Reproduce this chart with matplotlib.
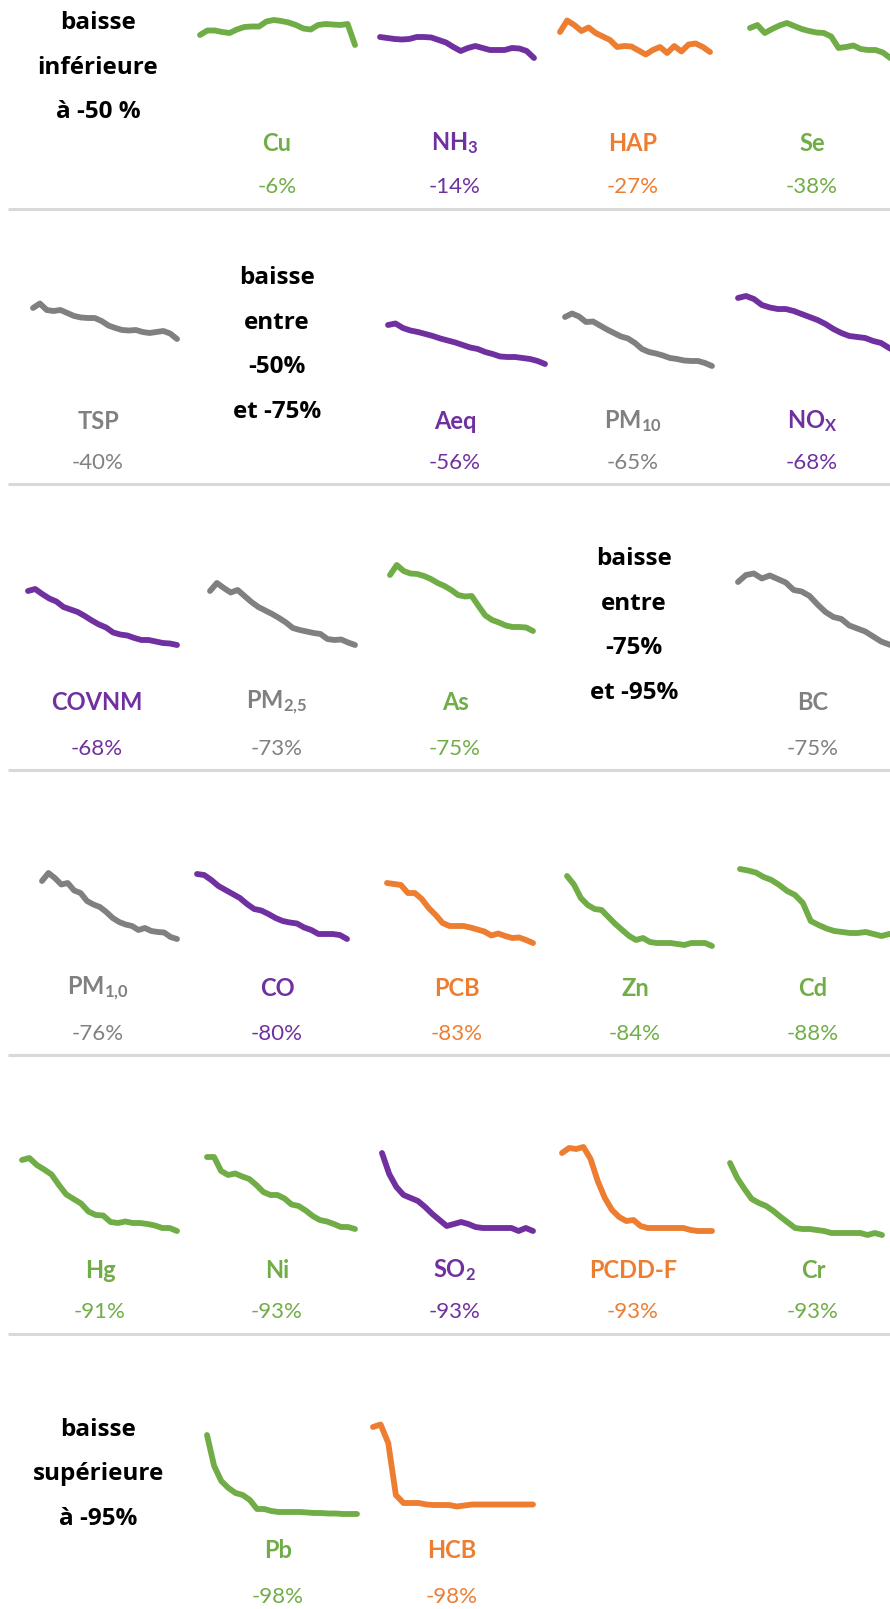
import numpy as np
import matplotlib
matplotlib.use('Agg')
import matplotlib.pyplot as plt

plt.rcParams['font.family'] = ['Lato', 'DejaVu Sans']
plt.rcParams['mathtext.fontset'] = 'custom'
plt.rcParams['mathtext.rm'] = 'Lato'
plt.rcParams['mathtext.bf'] = 'Lato:bold'
plt.rcParams['mathtext.it'] = 'Lato:italic'

W, H = 890, 1609

VERT = '#70AD47'
VIOLET = '#7030A0'
ORANGE = '#ED7D31'
GRIS = '#808080'

# polluants, dans l'ordre de lecture
noms = ['Cu', r'NH$_\mathbf{3}$', 'HAP', 'Se',
        'TSP', 'Aeq', r'PM$_\mathbf{10}$', r'NO$_\mathbf{X}$',
        'COVNM', r'PM$_\mathbf{2{,}5}$', 'As', 'BC',
        r'PM$_\mathbf{1{,}0}$', 'CO', 'PCB', 'Zn', 'Cd',
        'Hg', 'Ni', r'SO$_\mathbf{2}$', 'PCDD-F', 'Cr',
        'Pb', 'HCB']
baisses = [-6, -14, -27, -38,
           -40, -56, -65, -68,
           -68, -73, -75, -75,
           -76, -80, -83, -84, -88,
           -91, -93, -93, -93, -93,
           -98, -98]
couleurs = [VERT, VIOLET, ORANGE, VERT,
            GRIS, VIOLET, GRIS, VIOLET,
            VIOLET, GRIS, VERT, GRIS,
            GRIS, VIOLET, ORANGE, VERT, VERT,
            VERT, VERT, VIOLET, ORANGE, VERT,
            VERT, ORANGE]

# evolutions (niveau relatif)
s_cu = [45, 49.5, 49.5, 48, 47, 50.5, 53, 53.5, 53.5, 58.5, 60, 59, 57.5, 55, 51.5, 50.5, 55, 56, 55.5, 55, 56, 35]
s_nh3 = [43, 42, 41, 40.5, 41, 43, 43, 42.5, 40, 37.5, 33, 29, 32, 34, 32, 30, 30, 30, 32, 31.5, 29, 22]
s_hap = [48, 59.5, 55, 49, 52.5, 47, 43.5, 40, 33, 34, 33.5, 29.5, 25.5, 30, 33, 27, 34, 28.5, 35.5, 36.5, 33, 28]
s_se = [52, 55, 47, 51, 54.5, 57, 54, 51, 49, 47.5, 47, 43.5, 32, 33, 34.5, 31, 30, 30, 27.5, 22, 20, 18]
s_tsp = [72, 76.5, 70, 69, 70, 67, 64, 62.5, 62, 62, 59, 54.5, 52, 50, 49.5, 50, 48, 47, 48, 49, 46.5, 41]
s_aeq = [55, 56.5, 52, 49.5, 48, 46, 44, 41.5, 39.5, 37.5, 35, 32.5, 31, 28, 26, 23.5, 23, 23, 22, 21, 19, 16]
s_pm10 = [63, 66.5, 63.5, 58, 58.5, 54.5, 50.5, 47, 43.5, 41.5, 37, 31, 28, 26.5, 24.5, 22, 21, 19.5, 19, 19, 17, 14]
s_nox = [82, 84, 81, 75, 72.5, 71, 71, 69, 66, 63, 60, 56, 51, 47, 44, 43, 42, 39, 37, 32, 28, 23]
s_covnm = [69, 71, 66, 61.5, 58.5, 53, 50.5, 48, 44, 39.5, 35.5, 32.5, 27.5, 25.5, 24.5, 22, 20, 20, 18.5, 17, 16.5, 15]
s_pm25 = [69, 77, 72, 67.5, 70, 64, 58, 53, 49.5, 46, 42, 37.5, 32, 30, 28.5, 27, 26, 21, 20, 20.5, 17.5, 15]
s_as = [85, 95, 89, 86.5, 86, 84, 81, 77, 74, 70, 65, 63.5, 64, 54, 44.5, 40, 37.5, 34.5, 33, 33, 32.5, 29]
s_bc = [78, 85, 86.5, 81.5, 84.5, 81, 77.5, 70, 68.5, 64, 55.5, 48, 43, 41, 34.5, 31.5, 28.5, 23.5, 18.5, 15.5, 12.5, 8]
s_pm1 = [79, 87, 82, 75.5, 77, 69.5, 67, 59, 55.5, 53, 48, 42, 38, 35.5, 34, 30, 32, 29, 28, 27.5, 23, 21]
s_co = [86, 85, 80, 74, 70, 66, 62, 56, 51, 49.5, 46, 42, 39, 37.5, 36.5, 32.5, 30, 26, 26, 26, 25, 21]
s_pcb = [77, 76, 75, 67, 67, 61, 52, 45, 37, 34, 34, 34, 32.5, 30.5, 28.5, 24.5, 26.5, 24, 22, 22.5, 20, 17]
s_zn = [84, 75.5, 62, 55, 51, 50, 43, 36, 30, 24, 20, 22, 18, 17, 17, 17, 16, 15, 17, 17, 17, 14]
s_cd = [91, 89.5, 87.5, 83, 80, 75, 69, 65, 57, 39, 35, 31.5, 29, 28, 27, 27, 28, 26, 24, 26, 27, 25]
s_hg = [90, 92, 85, 80.5, 75.5, 65, 55.5, 51, 46.5, 38.5, 35, 34.5, 28, 27, 28.5, 27, 27, 26, 24.5, 22, 22, 19]
s_ni = [93, 93, 79, 75, 76.5, 73.5, 71, 65, 58, 55, 55, 51.5, 45.5, 44, 39.5, 34, 30, 28.5, 26, 23, 23, 21]
s_so2 = [97, 76, 63, 55, 52, 49, 43, 36, 30, 24, 26, 28, 26, 23, 22, 22, 22, 22, 22, 19, 22, 19]
s_pcdd = [97, 102, 101, 103, 91, 69, 52, 40, 33, 29, 30, 24, 22, 22, 22, 22, 22, 22, 20, 19, 19, 19]
s_cr = [87, 72, 61, 51, 47, 44, 39, 33, 27.5, 22, 21, 21, 20, 19, 17, 17, 17, 17, 17, 15, 17, 15]
s_pb = [95, 64, 49, 42, 37, 35, 30, 21, 21, 19, 18, 18, 18, 18, 17.5, 17, 17, 16.5, 16.5, 16, 16, 16]
s_hcb = [103, 105.5, 87, 35, 27, 27, 27, 25.5, 25, 25, 25, 23.5, 24.5, 25.5, 25.5, 25.5, 25.5, 25.5, 25.5, 25.5, 25.5, 25.5]

series = [s_cu, s_nh3, s_hap, s_se,
          s_tsp, s_aeq, s_pm10, s_nox,
          s_covnm, s_pm25, s_as, s_bc,
          s_pm1, s_co, s_pcb, s_zn, s_cd,
          s_hg, s_ni, s_so2, s_pcdd, s_cr,
          s_pb, s_hcb]

categories = [['baisse', 'inférieure', 'à -50 %'],
              ['baisse', 'entre', '-50%', 'et -75%'],
              ['baisse', 'entre', '-75%', 'et -95%'],
              ['baisse', 'supérieure', 'à -95%']]

# mise en page (pixels)
lignes = [0, 0, 0, 0, 1, 1, 1, 1, 2, 2, 2, 2, 3, 3, 3, 3, 3, 4, 4, 4, 4, 4, 5, 5]
x_debut = [200, 380, 560, 750, 33, 388, 565, 738, 28, 210, 390, 738,
           42, 197, 387, 567, 740, 22, 207, 382, 562, 730, 207, 373]
x_fin = [355, 534, 710, 905, 177, 545, 712, 905, 177, 355, 533, 905,
         177, 347, 533, 712, 905, 177, 355, 533, 712, 882, 357, 533]
x_etiq = [277, 455, 633, 812, 98, 455, 633, 812, 97, 277, 455, 813,
          98, 277, 457, 635, 813, 100, 277, 455, 633, 813, 278, 452]
base_y = [80, 380, 660, 960, 1250, 1530]
etiq_y = [143, 421, 702, 988, 1270, 1551]
pct_y = [187, 463, 749, 1034, 1312, 1597]
sep_y = [209, 484, 770, 1055, 1334]
cat_pos = [(98, 23), (277, 278), (634, 559), (98, 1430)]
BOXH = 120

fig = plt.figure(figsize=(W / 100, H / 100), dpi=100)
ax = fig.add_axes([0, 0, 1, 1])
ax.set_xlim(0, W)
ax.set_ylim(H, 0)
ax.axis('off')

for y in sep_y:
    ax.plot([8, W], [y, y], color='#D9D9D9', lw=2.2, solid_capstyle='butt')

for lines, (cx, cy) in zip(categories, cat_pos):
    for i, t in enumerate(lines):
        ax.text(cx, cy + i * 44.5, t, ha='center', va='center',
                fontsize=17.5, fontweight='bold', color='black',
                family=['Open Sans', 'DejaVu Sans'])

for i, vals in enumerate(series):
    r = lignes[i]
    x0, x1 = x_debut[i], x_fin[i]
    sa = fig.add_axes([x0 / W, 1 - base_y[r] / H, (x1 - x0) / W, BOXH / H])
    sa.plot(np.arange(len(vals)), vals, color=couleurs[i], lw=4.2,
            solid_capstyle='round', solid_joinstyle='round', clip_on=False)
    sa.set_xlim(0, len(vals) - 1)
    sa.set_ylim(0, BOXH)
    sa.axis('off')
    sa.patch.set_alpha(0)

    ax.text(x_etiq[i], etiq_y[r], noms[i], ha='center', va='center',
            fontsize=17, fontweight='bold', color=couleurs[i])
    ax.text(x_etiq[i], pct_y[r], f'{baisses[i]}%', ha='center', va='center',
            fontsize=16, color=couleurs[i])

fig.savefig('out.png', dpi=100)
